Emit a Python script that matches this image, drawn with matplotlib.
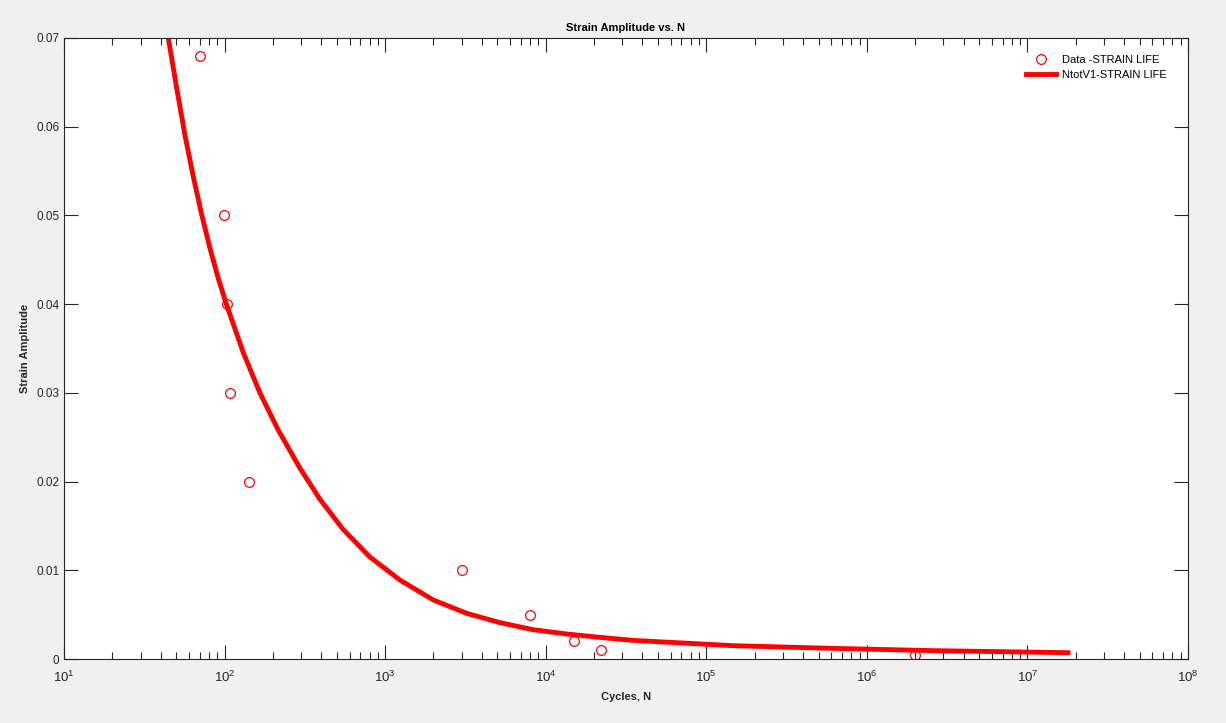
import matplotlib.pyplot as plt
from matplotlib.ticker import LogLocator, FixedLocator

plt.rcParams['font.family'] = ['Liberation Sans', 'DejaVu Sans']
plt.rcParams['mathtext.fontset'] = 'custom'
plt.rcParams['mathtext.rm'] = 'Liberation Sans'
plt.rcParams['mathtext.it'] = 'Liberation Sans'
plt.rcParams['mathtext.bf'] = 'Liberation Sans:bold'

# measured data
data_N = [70, 99, 103.5, 108, 142, 3000, 8000, 15000, 22000, 2000000]
data_strain = [0.068, 0.05, 0.04, 0.03, 0.02, 0.01, 0.005, 0.002, 0.001, 0.0005]

# fitted strain-life curve
fit_N = [44.6, 50.4, 56.6, 63.8, 72.0, 81.1, 91.4, 103, 131, 166, 216, 295, 393,
         548, 804, 1236, 1996, 3215, 5190, 8360, 13500, 21700, 35000, 147000,
         617000, 2590000, 17900000]
fit_strain = [0.0700, 0.0643, 0.0591, 0.0544, 0.0501, 0.0463, 0.0429, 0.0399, 0.0345,
              0.0300, 0.0258, 0.0215, 0.0180, 0.0146, 0.0115, 0.0089, 0.00665,
              0.00515, 0.0041, 0.0033, 0.00282, 0.00244, 0.0021, 0.0015, 0.0012,
              0.00094, 0.00071]

y_ticks = [0, 0.01, 0.02, 0.03, 0.04, 0.05, 0.06, 0.07]
y_labels = ['0', '0.01', '0.02', '0.03', '0.04', '0.05', '0.06', '0.07']

ink = '#262626'

fig = plt.figure(figsize=(12.26, 7.23), dpi=100, facecolor='#f0f0f0')
ax = fig.add_axes([64/1226, 64/723, (1188-64)/1226, (659-38)/723])

ax.plot(data_N, data_strain, 'o', color='red', markerfacecolor='none',
        markersize=7, markeredgewidth=0.9, label='Data -STRAIN LIFE')
ax.plot(fit_N, fit_strain, '-', color='red', linewidth=3.5,
        solid_joinstyle='round', label='NtotV1-STRAIN LIFE')

ax.set_xscale('log')
ax.set_xlim(10, 1e8)
ax.set_ylim(0, 0.07)
ax.xaxis.set_major_locator(LogLocator(base=10, numticks=10))
ax.xaxis.set_minor_locator(LogLocator(base=10, subs=range(2, 10), numticks=100))
ax.yaxis.set_major_locator(FixedLocator(y_ticks))
ax.set_yticklabels(y_labels)

ax.tick_params(which='both', direction='in', top=True, right=True,
               colors=ink, labelsize=8.5, width=0.8)
ax.tick_params(which='major', length=10)
ax.tick_params(which='minor', length=5)
ax.tick_params(axis='x', labelsize=9.5, pad=8)
for s in ax.spines.values():
    s.set_color(ink)
    s.set_linewidth(0.8)

ax.set_title('Strain Amplitude vs. N', fontsize=8, fontweight='bold', color='black', pad=5)
ax.set_xlabel('Cycles, N', fontsize=8, fontweight='bold', color=ink, labelpad=5)
ax.set_ylabel('Strain Amplitude', fontsize=8, fontweight='bold', color=ink, labelpad=4)

leg = ax.legend(loc='upper right', bbox_to_anchor=(0.985, 0.980), frameon=False,
                fontsize=8, handlelength=2.7, handletextpad=0.5,
                borderaxespad=0, labelspacing=0.45)
for t in leg.get_texts():
    t.set_color('black')

fig.savefig('out.png', dpi=100, facecolor=fig.get_facecolor())
